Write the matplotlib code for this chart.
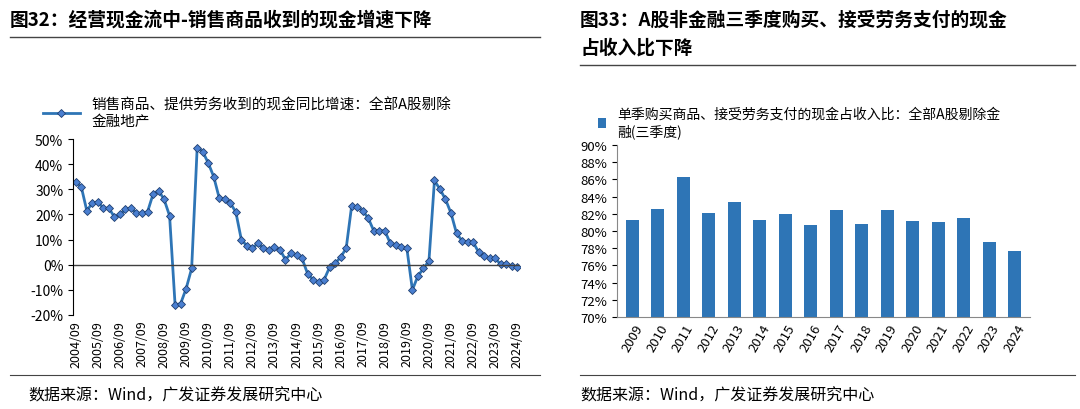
import matplotlib
matplotlib.use("Agg")
import matplotlib.pyplot as plt
import numpy as np

plt.rcParams["font.family"] = ["Noto Sans CJK SC"]

left_vals = [33, 31, 21.5, 24.5, 25, 22.5, 22.5, 19, 20, 22, 22.5, 20.5, 20.5, 21, 28, 29.5,
             26, 19.5, -16, -15.5, -9.5, -1.5, 46.5, 45, 40.5, 35, 26.5, 26, 24.5, 21,
             10, 7.5, 6.5, 8.5, 6.5, 6, 7, 6, 2, 4.5, 4,
             2.5, -3.5, -6, -7, -6, -1, 0.5, 3, 6.5, 23.5, 23, 21.5, 18.5, 13.5, 13.5, 13.5,
             8.5, 8, 7, 6.5, -10, -4.5, -1.5, 1.5, 33.5, 30, 26, 20.5, 12.5, 9.5, 9, 9,
             5, 3.5, 2.5, 2.5, 0.2, 0.2, -0.5, -0.8]
left_ticks = [f"{y}/09" for y in range(2004, 2025)]
right_years = [str(y) for y in range(2009, 2025)]
right_vals = [81.3, 82.6, 86.3, 82.1, 83.4, 81.3, 82.0, 80.7, 82.4, 80.8, 82.4, 81.2, 81.0, 81.5, 78.7, 77.7]

W, H = 1080, 410
fig = plt.figure(figsize=(W / 100, H / 100), dpi=100)
blue = "#2E75B6"

fig.text(10 / W, 1 - 20 / H, "图32：经营现金流中-销售商品收到的现金增速下降", fontsize=13.5, fontweight="bold", va="center")
fig.text(580 / W, 1 - 20 / H, "图33：A股非金融三季度购买、接受劳务支付的现金", fontsize=13.5, fontweight="bold", va="center")
fig.text(580 / W, 1 - 48 / H, "占收入比下降", fontsize=13.5, fontweight="bold", va="center")
for x0, x1, y in [(10, 540, 38), (580, 1075, 66)]:
    fig.add_artist(plt.Line2D([x0 / W, x1 / W], [1 - y / H] * 2, color="#444444", lw=1))
for x0, x1 in [(10, 540), (580, 1075)]:
    fig.add_artist(plt.Line2D([x0 / W, x1 / W], [1 - 376 / H] * 2, color="#444444", lw=0.8))
fig.text(28 / W, 1 - 396 / H, "数据来源：Wind，广发证券发展研究中心", fontsize=11.5, va="center")
fig.text(580 / W, 1 - 396 / H, "数据来源：Wind，广发证券发展研究中心", fontsize=11.5, va="center")

ax = fig.add_axes([73 / W, 1 - 316 / H, (520 - 73) / W, (316 - 140) / H])
x = np.arange(len(left_vals))
ax.plot(x, left_vals, color=blue, lw=2, marker="D", ms=4, mfc="#4A7FD0", mec="#1F3F70", mew=0.6,
        label="销售商品、提供劳务收到的现金同比增速：全部A股剔除\n金融地产")
ax.set_ylim(-20, 50)
ax.set_yticks(range(-20, 51, 10))
ax.set_yticklabels([f"{v}%" for v in range(-20, 51, 10)], fontsize=10)
ax.set_xlim(-0.5, len(left_vals) - 0.5)
ax.set_xticks(np.arange(0, 81, 4))
ax.set_xticklabels(left_ticks, rotation=90, fontsize=9)
for s in ["top", "right", "bottom"]:
    ax.spines[s].set_visible(False)
ax.axhline(0, color="#404040", lw=1)
ax.tick_params(axis="x", length=0)
ax.legend(loc="lower left", bbox_to_anchor=(-0.08, 1.03), frameon=False, fontsize=10.5, handlelength=2.5, borderaxespad=0)

ax2 = fig.add_axes([617 / W, 1 - 318 / H, (1030 - 617) / W, (318 - 146) / H])
xb = np.arange(len(right_years))
ax2.bar(xb, np.array(right_vals) - 70, bottom=70, width=0.5, color=blue,
        label="单季购买商品、接受劳务支付的现金占收入比：全部A股剔除金\n融(三季度)")
ax2.set_ylim(70, 90)
ax2.set_yticks(range(70, 91, 2))
ax2.set_yticklabels([f"{v}%" for v in range(70, 91, 2)], fontsize=9.5)
ax2.set_xlim(-0.6, len(right_years) - 0.4)
ax2.set_xticks(xb)
ax2.set_xticklabels(right_years, rotation=60, fontsize=9.5)
for s in ["top", "right"]:
    ax2.spines[s].set_visible(False)
ax2.spines["bottom"].set_color("#888888")
ax2.spines["left"].set_color("#888888")
ax2.tick_params(axis="x", length=0)
ax2.legend(loc="lower left", bbox_to_anchor=(-0.06, 1.01), frameon=False, fontsize=10, handlelength=0.6, borderaxespad=0)

fig.savefig("out.png", dpi=100)
